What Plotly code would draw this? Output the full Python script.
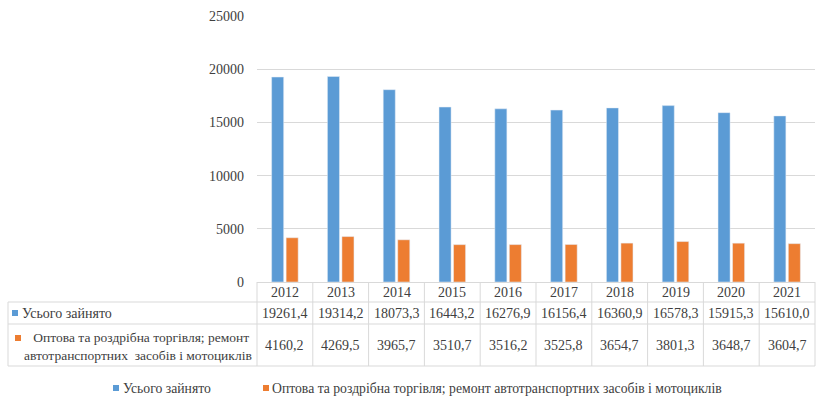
import plotly.graph_objects as go

years = ['2012', '2013', '2014', '2015', '2016', '2017', '2018', '2019', '2020', '2021']
total = [19261.4, 19314.2, 18073.3, 16443.2, 16276.9, 16156.4, 16360.9, 16578.3, 15915.3, 15610.0]
trade = [4160.2, 4269.5, 3965.7, 3510.7, 3516.2, 3525.8, 3654.7, 3801.3, 3648.7, 3604.7]
y_ticks = [0, 5000, 10000, 15000, 20000, 25000]
name_total = 'Усього зайнято'
name_trade = 'Оптова та роздрібна торгівля; ремонт автотранспортних засобів і мотоциклів'
name_trade_2 = 'Оптова та роздрібна торгівля; ремонт<br>автотранспортних  засобів і мотоциклів'

BLUE = '#5B9BD5'
ORANGE = '#ED7D31'
GRID = '#d9d9d9'
TXT = '#404040'
FONT = 'Liberation Serif'

W, H = 820, 409
L, R, T, B = 257, 5, 16, 127
PW = W - L - R
PH = H - T - B
Y0 = H - B  # pixel y of zero line


def px(x):
    return (x - L) / PW


def py(y):
    return (Y0 - y) / PH


def fmt(v):
    return f"{v:.1f}".replace('.', ',')


fig = go.Figure()
fig.add_bar(x=years, y=total, name=name_total, marker_color=BLUE, showlegend=False)
fig.add_bar(x=years, y=trade, name=name_trade, marker_color=ORANGE, showlegend=False)

shapes = []
annos = []
n = len(years)
colw = PW / n
line = dict(color=GRID, width=1)
for yy in (302, 324, 366):
    shapes.append(dict(type='line', xref='paper', yref='paper', x0=px(8), x1=px(W - R),
                       y0=py(yy), y1=py(yy), line=line))
for i in range(n + 1):
    xx = L + i * colw
    shapes.append(dict(type='line', xref='paper', yref='paper', x0=px(xx), x1=px(xx),
                       y0=py(Y0), y1=py(366), line=line))
shapes.append(dict(type='line', xref='paper', yref='paper', x0=px(8), x1=px(8),
                   y0=py(302), y1=py(366), line=line))

for i, yr in enumerate(years):
    cx = L + (i + 0.5) * colw
    annos.append(dict(x=px(cx), y=py(292), text=yr))
    annos.append(dict(x=px(cx), y=py(313), text=fmt(total[i])))
    annos.append(dict(x=px(cx), y=py(345), text=fmt(trade[i])))

shapes.append(dict(type='rect', xref='paper', yref='paper', x0=px(12), x1=px(18),
                   y0=py(310), y1=py(316), fillcolor=BLUE, line=dict(width=0)))
annos.append(dict(x=px(20), y=py(313), text=name_total, xanchor='left'))
shapes.append(dict(type='rect', xref='paper', yref='paper', x0=px(15), x1=px(21),
                   y0=py(335), y1=py(341), fillcolor=ORANGE, line=dict(width=0)))
annos.append(dict(x=px(138), y=py(346), text='\u00a0\u00a0' + name_trade_2, xanchor='center',
                  align='center', font=dict(size=13.5)))

shapes.append(dict(type='rect', xref='paper', yref='paper', x0=px(113), x1=px(119),
                   y0=py(385), y1=py(391), fillcolor=BLUE, line=dict(width=0)))
annos.append(dict(x=px(121), y=py(388), text=name_total, xanchor='left', font=dict(size=13.7)))
shapes.append(dict(type='rect', xref='paper', yref='paper', x0=px(263), x1=px(269),
                   y0=py(385), y1=py(391), fillcolor=ORANGE, line=dict(width=0)))
annos.append(dict(x=px(270), y=py(388), text=name_trade, xanchor='left', font=dict(size=13.7)))

for a in annos:
    a.setdefault('xref', 'paper')
    a.setdefault('yref', 'paper')
    a.setdefault('showarrow', False)
    a.setdefault('yanchor', 'middle')
    a.setdefault('xanchor', 'center')
    a.setdefault('font', dict(size=14))
    a['font'] = dict(family=FONT, color=TXT, **a['font'])

fig.update_layout(
    width=W, height=H,
    margin=dict(l=L, r=R, t=T, b=B, pad=0),
    paper_bgcolor='white', plot_bgcolor='white',
    barmode='group', bargap=0.48, bargroupgap=0.17,
    font=dict(family=FONT, color=TXT, size=14),
    shapes=shapes, annotations=annos,
    xaxis=dict(type='category', showticklabels=False, showgrid=False, zeroline=False,
               showline=False, ticks='', range=[-0.5, n - 0.5]),
    yaxis=dict(range=[0, 25000], tickmode='array', tickvals=y_ticks,
               ticktext=[str(v) for v in y_ticks], showgrid=True, gridcolor=GRID,
               gridwidth=1, zeroline=True, zerolinecolor=GRID, zerolinewidth=1,
               showline=False, ticks='', ticklabelstandoff=12,
               tickfont=dict(family=FONT, size=14, color=TXT)),
)

fig.write_html('out.html')
